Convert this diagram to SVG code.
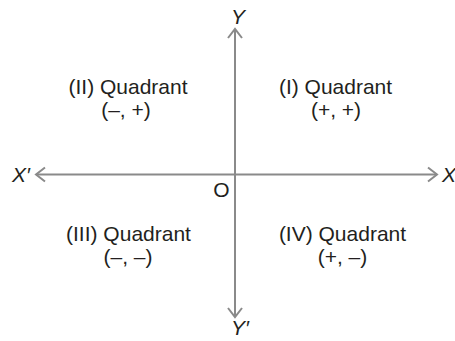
<svg xmlns="http://www.w3.org/2000/svg" width="455" height="341" viewBox="0 0 455 341">
<style>
.t{font-family:"Liberation Sans",Arial,sans-serif;font-size:21px;fill:#231f20;text-anchor:middle}
.ax{font-family:"Liberation Sans",Arial,sans-serif;font-size:21px;fill:#231f20;font-style:italic}
.axis{stroke:#8a8a8a;stroke-width:2;fill:none}
</style>
<defs>
<marker id="ah" markerUnits="userSpaceOnUse" markerWidth="20" markerHeight="20" refX="0" refY="0" viewBox="-12 -10 14 20" orient="auto-start-reverse" overflow="visible">
<path d="M-9,-7 L0,0 L-9,7" fill="none" stroke="#8a8a8a" stroke-width="2" stroke-linejoin="miter"/>
</marker>
</defs>
<g id="connectors">
<line class="axis" x1="36" y1="174.5" x2="437" y2="174.5" marker-start="url(#ah)" marker-end="url(#ah)"/>
<line class="axis" x1="235" y1="29" x2="235" y2="317" marker-start="url(#ah)" marker-end="url(#ah)"/>
</g>
<g id="axis-labels">
<text class="ax" x="12" y="182">X′</text>
<text class="ax" x="442" y="182">X</text>
<text class="ax" x="231" y="23.5">Y</text>
<text class="ax" x="231" y="335">Y′</text>
<text class="t" x="221.5" y="196.5">O</text>
</g>
<g id="q2"><text class="t" x="128" y="93.5">(II) Quadrant</text><text class="t" x="126" y="117">(–, +)</text></g>
<g id="q1"><text class="t" x="335.5" y="93.5">(I) Quadrant</text><text class="t" x="336" y="117">(+, +)</text></g>
<g id="q3"><text class="t" x="128.5" y="240.5">(III) Quadrant</text><text class="t" x="128" y="263.5">(–, –)</text></g>
<g id="q4"><text class="t" x="342.5" y="240.5">(IV) Quadrant</text><text class="t" x="342.5" y="263.5">(+, –)</text></g>
</svg>
